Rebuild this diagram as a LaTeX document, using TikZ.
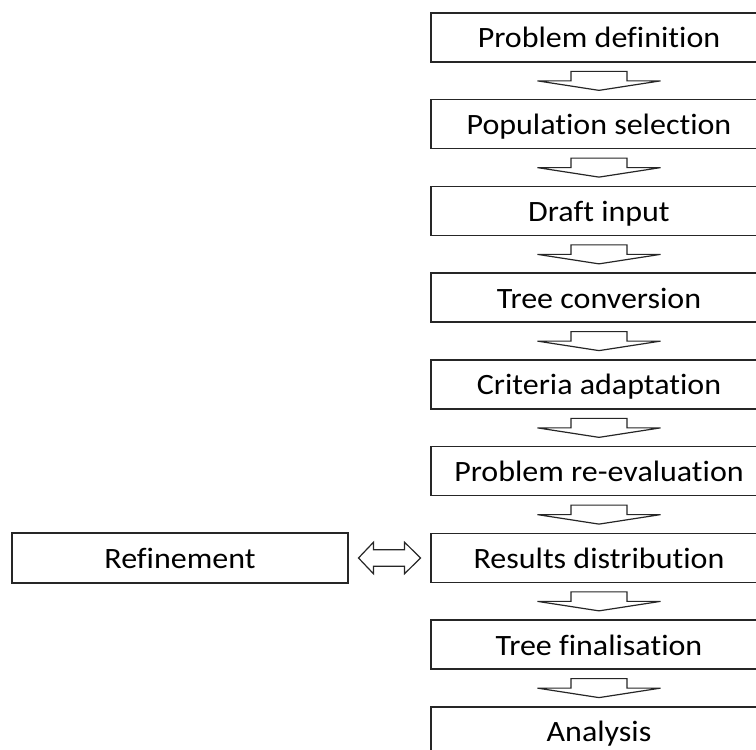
\documentclass[tikz,border=0pt]{standalone}
\usepackage{fontspec}
\setmainfont{Carlito}[Ligatures={NoCommon,NoRequired,NoContextual},FakeStretch=1.085]
\usetikzlibrary{calc}
\begin{document}
\begin{tikzpicture}[x=1pt,y=1pt,
  box/.style={draw=black!85,line width=1.5pt,minimum width=336pt,minimum height=49pt,inner sep=0pt,
    text height=35pt,text depth=14pt,font=\fontsize{29.5}{34}\selectfont,text=black},
  barrow/.style={draw=black!85,line width=1.2pt,fill=white,line join=miter}]
\useasboundingbox (0,0) rectangle (756,750);
\clip (0,0) rectangle (756,750);
\node[box] (b1) at (599,712.5) {Problem definition};
\node[box] (b2) at (599,625.75) {Population selection};
\node[box] (b3) at (599,539) {Draft input};
\node[box] (b4) at (599,452.25) {Tree conversion};
\node[box] (b5) at (599,365.5) {Criteria adaptation};
\node[box] (b6) at (599,278.75) {Problem re-evaluation};
\node[box] (b7) at (599,192) {Results distribution};
\node[box] (b8) at (599,105.25) {Tree finalisation};
\node[box] (b9) at (599,18.5) {Analysis};
\node[box,minimum width=336pt,minimum height=50pt] (ref) at (180,192) {Refinement};
\newcommand\downblock[2]{%
  \coordinate (m) at ($(#1.south)!0.5!(#2.north)$);
  \draw[barrow] ($(m)+(-28,9.5)$) -- ++(0,-9.5) -- ++(-33.5,0) -- ($(m)+(0,-9.5)$)
    -- ($(m)+(61.5,0)$) -- ++(-33.5,0) -- ++(0,9.5) -- cycle;}
\downblock{b1}{b2}
\downblock{b2}{b3}
\downblock{b3}{b4}
\downblock{b4}{b5}
\downblock{b5}{b6}
\downblock{b6}{b7}
\downblock{b7}{b8}
\downblock{b8}{b9}
\coordinate (d) at ($(ref.east)!0.5!(b7.west)$);
\draw[barrow] ($(d)+(-31,0)$) -- ++(15,15.8) -- ++(0,-7.5) -- ($(d)+(15,8.3)$) -- ++(0,7.5)
  -- ($(d)+(31,0)$) -- ++(-16,-15.8) -- ++(0,7.5) -- ($(d)+(-16,-8.3)$) -- ++(0,-7.5) -- cycle;
\end{tikzpicture}
\end{document}
